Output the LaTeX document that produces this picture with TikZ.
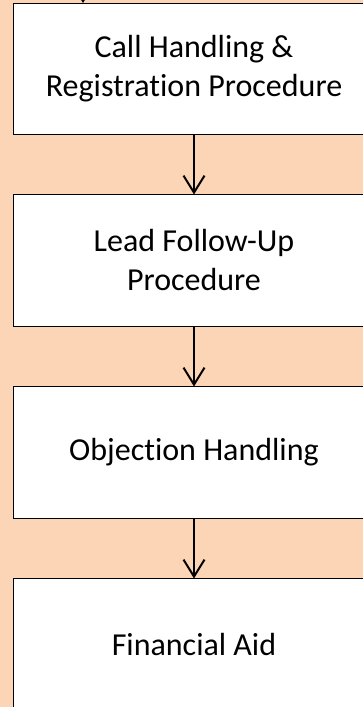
\documentclass[tikz,border=0pt]{standalone}
\usepackage{fontspec}
\setmainfont{Carlito}[Ligatures={NoCommon,NoRequired,NoContextual}]
\usetikzlibrary{arrows.meta}
\definecolor{peach}{HTML}{FBD5B5}
\tikzset{
  procbox/.style={draw=black, line width=1pt, fill=white, minimum width=362pt, minimum height=131.5pt,
    inner sep=0pt, outer sep=0pt, align=center, font=\fontsize{32}{39}\selectfont},
  flow/.style={line width=2pt, -{Straight Barb[length=17pt,width=21pt,line width=2pt]}}
}
\begin{document}
\begin{tikzpicture}[x=1pt,y=-1pt]
\useasboundingbox (0,0) rectangle (363,707);
\clip (0,0) rectangle (363,707);
\fill[peach] (0,0) rectangle (363,707);
\node[procbox] (b1) at (194,68.75) {Call Handling \&\\Registration Procedure};
\node[procbox] (b2) at (194,260.25) {Lead Follow-Up\\Procedure};
\node[procbox] (b3) at (194,452.25) {Objection Handling};
\node[procbox] (b4) at (194,644.25) {Financial Aid};
\coordinate (in) at (83,-40);
\draw[flow] (in) -- (in |- b1.north);
\draw[flow] (b1.south) -- (b2.north);
\draw[flow] (b2.south) -- (b3.north);
\draw[flow] (b3.south) -- (b4.north);
\end{tikzpicture}
\end{document}
